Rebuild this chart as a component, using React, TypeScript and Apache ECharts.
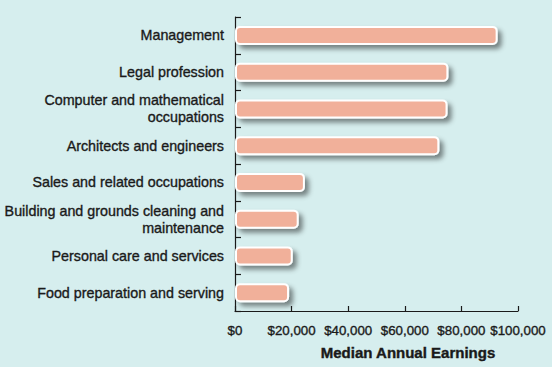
import React, { useEffect, useRef } from "react";
import * as echarts from "echarts";

const categories = [
  "Management",
  "Legal profession",
  "Computer and mathematical\noccupations",
  "Architects and engineers",
  "Sales and related occupations",
  "Building and grounds cleaning and\nmaintenance",
  "Personal care and services",
  "Food preparation and serving",
];
const earnings = [92800, 75400, 75100, 72200, 24700, 22500, 20400, 19100];
const xTicks = [0, 20000, 40000, 60000, 80000, 100000];
const axisTitle = "Median Annual Earnings";

const FONT = '"Liberation Sans", Arial, Helvetica, sans-serif';
const INK = "#1a1a1a";

export default function App() {
  const ref = useRef<HTMLDivElement>(null);
  useEffect(() => {
    if (!ref.current) return;
    const chart = echarts.init(ref.current, null, { renderer: "svg" });
    chart.setOption({
      animation: false,
      backgroundColor: "#d6eeee",
      grid: { left: 235, right: 34, top: 17, bottom: 56, containLabel: false },
      xAxis: {
        type: "value",
        min: xTicks[0],
        max: xTicks[xTicks.length - 1],
        interval: xTicks[1] - xTicks[0],
        axisLine: { show: true, lineStyle: { color: INK, width: 1.2 } },
        axisTick: { show: true, inside: true, length: 5, lineStyle: { color: INK, width: 1.2 } },
        splitLine: { show: false },
        axisLabel: {
          margin: 13,
          color: INK,
          fontSize: 13.3,
          fontFamily: FONT,
          textBorderColor: INK,
          textBorderWidth: 0.35,
          formatter: (v: number) => "$" + v.toLocaleString("en-US"),
        },
      },
      yAxis: {
        type: "category",
        inverse: true,
        data: categories,
        axisLine: { show: true, lineStyle: { color: INK, width: 1.2 } },
        axisTick: { show: true, inside: true, length: 6, lineStyle: { color: INK, width: 1.2 } },
        axisLabel: {
          margin: 11,
          color: INK,
          fontSize: 14.3,
          fontFamily: FONT,
          textBorderColor: INK,
          textBorderWidth: 0.35,
          lineHeight: 17,
          align: "right",
        },
      },
      series: [
        {
          type: "bar",
          data: earnings,
          barWidth: 19,
          itemStyle: {
            color: "#f1b09a",
            borderColor: "#ffffff",
            borderWidth: 2,
            borderRadius: 4,
            shadowColor: "rgba(0,0,0,0.45)",
            shadowBlur: 5,
            shadowOffsetX: 4,
            shadowOffsetY: 4,
          },
        },
      ],
      graphic: [
        {
          type: "text",
          x: 408,
          y: 352,
          style: {
            text: axisTitle,
            font: "bold 15px " + FONT,
            fill: INK,
            stroke: INK,
            lineWidth: 0.4,
            textAlign: "center",
            textVerticalAlign: "middle",
          },
        },
      ],
    });
    return () => chart.dispose();
  }, []);
  return (
    <div
      ref={ref}
      style={{ position: "absolute", left: 0, top: 0, width: 552, height: 367 }}
    />
  );
}
